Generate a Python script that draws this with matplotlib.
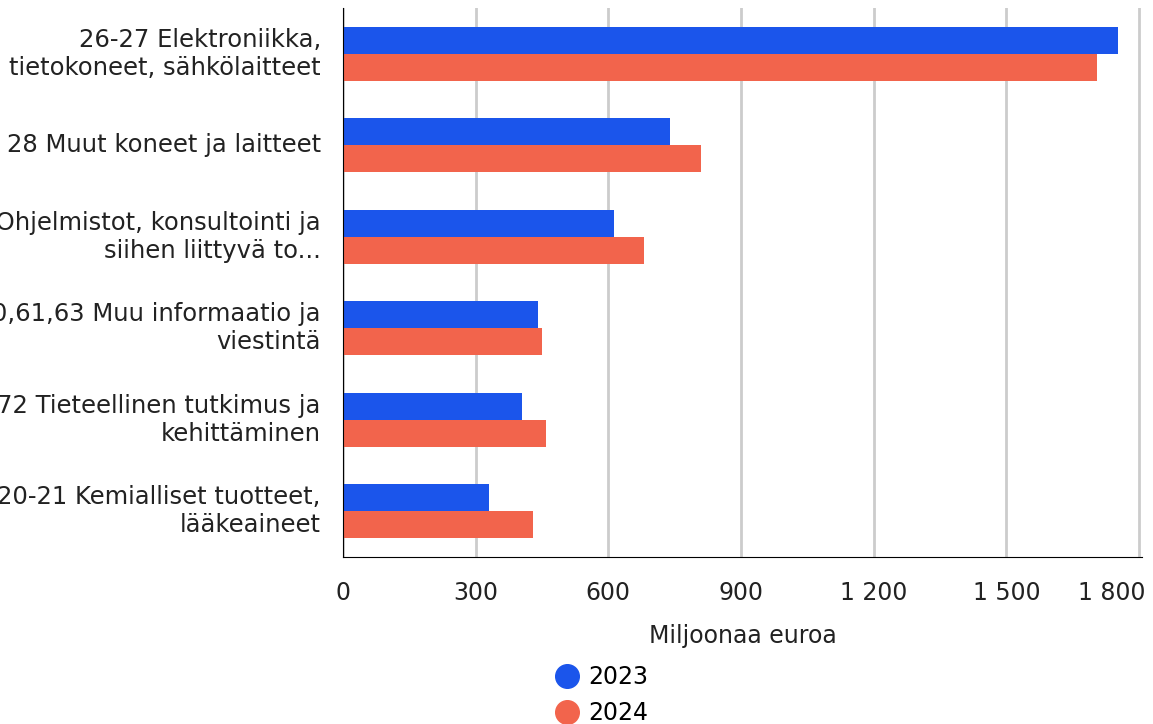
import matplotlib
matplotlib.use("Agg")
import matplotlib.pyplot as plt
import matplotlib.transforms as mtransforms
import numpy as np
from matplotlib.lines import Line2D

categories = [
    "26-27 Elektroniikka,\ntietokoneet, sähkölaitteet",
    "28 Muut koneet ja laitteet",
    "62 Ohjelmistot, konsultointi ja\nsiihen liittyvä to...",
    "58-60,61,63 Muu informaatio ja\nviestintä",
    "72 Tieteellinen tutkimus ja\nkehittäminen",
    "20-21 Kemialliset tuotteet,\nlääkeaineet",
]
values_2023 = [1753, 739, 612, 442, 404, 331]
values_2024 = [1705, 810, 680, 449, 460, 429]
series_names = ["2023", "2024"]
xticks = [0, 300, 600, 900, 1200, 1500, 1800]
xtick_labels = ["0", "300", "600", "900", "1 200", "1 500", "1 800"]

c2023 = "#1b55eb"
c2024 = "#f2644c"
FS = 17

plt.rcParams['font.family'] = ['DejaVu Sans']
fig = plt.figure(figsize=(11.53, 7.24), dpi=100)
ax = fig.add_axes([343/1153, 1-557/724, (1142-343)/1153, (557-8)/724])

n = len(categories)
y = np.arange(n)
h = 0.295
ax.barh(y - h/2, values_2023, height=h, color=c2023, zorder=3)
ax.barh(y + h/2, values_2024, height=h, color=c2024, zorder=3)
ax.set_ylim(n - 0.5, -0.5)
ax.set_xlim(0, 1800 * (1142-343)/(1139-343))
ax.set_yticks(y)
ax.set_yticklabels(categories, fontsize=17.5, color="#222222", linespacing=1.22,
                   va='center')
shift_down = mtransforms.ScaledTranslation(0, -2.5/100, fig.dpi_scale_trans)
for lab in ax.get_yticklabels():
    lab.set_transform(lab.get_transform() + shift_down)
ax.set_xticks(xticks)
ax.set_xticklabels(xtick_labels, fontsize=FS, color="#222222")
ax.tick_params(axis='y', length=0, pad=16)
ax.tick_params(axis='x', length=0, pad=17)
# last x tick label kept inside the figure, right-aligned like the reference
last = ax.get_xticklabels()[-1]
last.set_horizontalalignment('right')
last.set_transform(last.get_transform() +
                   mtransforms.ScaledTranslation(6/100, 0, fig.dpi_scale_trans))
ax.grid(axis='x', color="#cccccc", linewidth=2, zorder=0)
for s in ['top', 'right']:
    ax.spines[s].set_visible(False)
ax.spines['left'].set_color('black')
ax.spines['bottom'].set_color('black')
ax.spines['left'].set_zorder(4)
ax.set_xlabel("Miljoonaa euroa", fontsize=FS, color="#222222", labelpad=14)

handles = [Line2D([0], [0], marker='o', linestyle='', markersize=17, color=c)
           for c in (c2023, c2024)]
fig.legend(handles, series_names, loc='upper left',
           bbox_to_anchor=(553/1153, 1-665/724), frameon=False,
           fontsize=FS, handletextpad=0.3, labelspacing=0.5,
           handlelength=1.2, borderaxespad=0, borderpad=0)

fig.savefig("out.png", dpi=100)
